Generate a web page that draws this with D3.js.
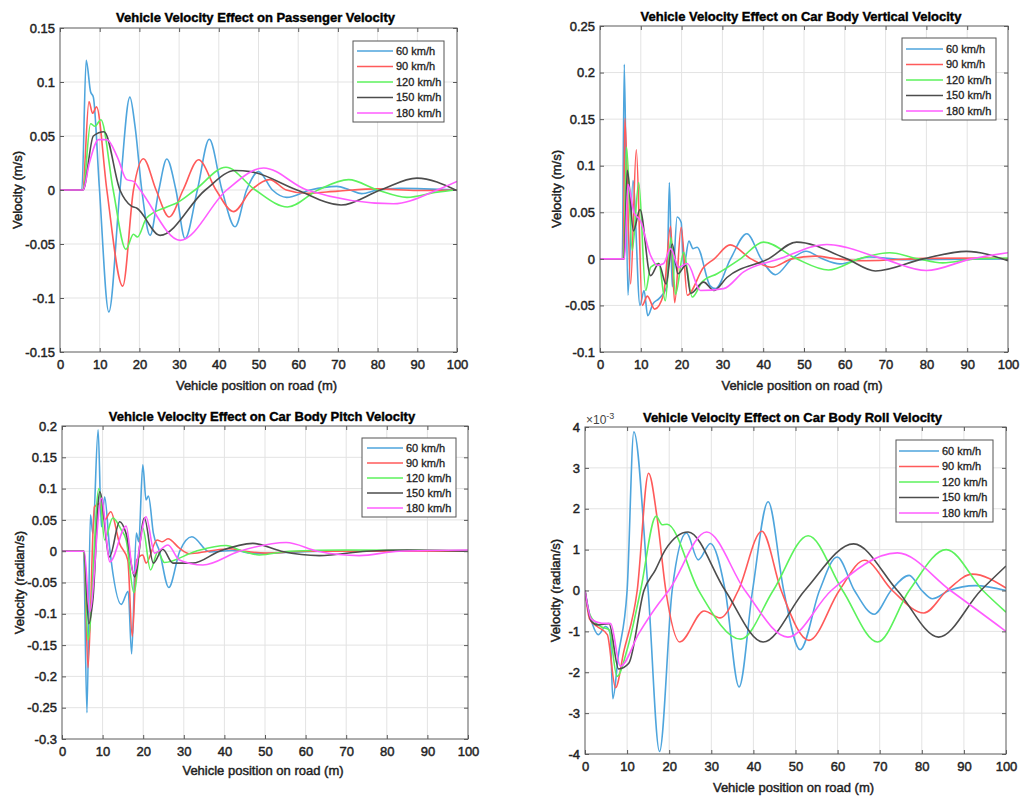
<!DOCTYPE html>
<html><head><meta charset="utf-8">
<script src="https://cdn.jsdelivr.net/npm/d3@7/dist/d3.min.js"></script>
<style>
body{margin:0;background:#fff}
text{font-family:"Liberation Sans",Arial,Helvetica,sans-serif}
</style>
</head><body>
<svg id="chart" width="1022" height="797"></svg>
<script>
// ---------- shared ----------
const xTicks = [0,10,20,30,40,50,60,70,80,90,100];
const speeds = ["60 km/h","90 km/h","120 km/h","150 km/h","180 km/h"];
const colors = ["#4ea5dd","#ff5a5a","#5cf25c","#4d4d4d","#ff5cff"];

// ---------- Panel 1: passenger velocity (m/s) ----------
const passTicks = [-0.15,-0.1,-0.05,0,0.05,0.1,0.15];
const pass60 = [[0,0],[5.5,0],[6.6,0.12],[7.7,0.091],[8.4,0.086],[9.9,0.003],[12.3,-0.113],[15.1,0],[17.6,0.086],[18.9,0.059],[20.6,0],[22.7,-0.042],[24.9,0],[26.9,0.0287],[29.2,0],[31.5,-0.045],[34.6,0],[37.6,0.047],[40.8,0],[44.1,-0.034],[47,0],[50,0.017],[53.5,0],[57.1,-0.0068],[63,0],[69.7,0.0034],[73,0],[76,-0.0034],[80,0],[85.7,0.0015],[100,0]];
const pass90 = [[0,0],[5.7,0],[7.3,0.082],[8.2,0.071],[9.2,0.077],[11.8,0],[15.8,-0.089],[18.5,0],[21,0.029],[24.2,0],[27.5,-0.025],[31,0],[34.9,0.028],[39.3,0],[43.7,-0.020],[48.2,0],[52.8,0.0096],[57,0],[62,-0.003],[70,-0.001],[80,0.001],[90,-0.0005],[100,0]];
const pass120 = [[0,0],[5.8,0],[7.7,0.0614],[8.8,0.059],[10.3,0.065],[13.4,0],[16.6,-0.055],[18.5,-0.041],[19.5,-0.0435],[21.8,-0.026],[26.9,-0.0157],[29.4,-0.012],[34,0],[41.8,0.021],[49.2,0],[57.3,-0.0157],[65,0],[72.7,0.0096],[80,0],[87.4,-0.0068],[95,-0.002],[100,0]];
const pass150 = [[0,0],[5.8,0],[8.4,0.050],[11.1,0.054],[15.1,0],[18,-0.015],[19.3,-0.0167],[25.2,-0.042],[36.6,0],[44.1,0.018],[48,0.017],[59.7,0],[70.8,-0.0139],[80.7,0],[89.9,0.011],[100,-0.0006]];
const pass180 = [[0,0],[5.8,0],[7.4,0.025],[9.7,0.0466],[11.8,0.0466],[14.5,0.03],[16.8,0.0096],[18.5,0.008],[20.2,0],[30.3,-0.0466],[42,0],[51.3,0.0204],[62.2,0],[84,-0.0127],[95,0],[100,0.008]];

// ---------- Panel 2: car body vertical velocity (m/s) ----------
const vertTicks = [-0.1,-0.05,0,0.05,0.1,0.15,0.2,0.25];
const vert60 = [[0,0],[5.46,0],[5.95,0.209],[6.85,-0.039],[8.07,0.084],[9.8,-0.050],[10.8,-0.034],[11.7,-0.061],[13,-0.048],[14.4,-0.043],[16.4,-0.03],[17,0.082],[17.7,-0.030],[18.9,0.045],[19.9,0.039],[20.5,-0.009],[21.8,0.019],[22.8,0.011],[23.8,0.0125],[27,-0.029],[28.3,-0.032],[32,0],[36,0.027],[39.5,0],[43,-0.017],[47,0],[50.5,0.0082],[54.5,0],[58.8,-0.0054],[66,0.002],[75,-0.001],[100,0]];
const vert90 = [[0,0],[5.7,0],[6.1,0.151],[7.5,-0.027],[8.9,0.117],[10.35,-0.050],[11.6,-0.04],[13.4,-0.054],[15.6,-0.038],[17.3,0.035],[18.3,-0.047],[19.9,0.034],[21.4,-0.039],[25.4,-0.009],[28,0],[31.9,0.015],[37,0],[42.1,-0.009],[47,0],[52.7,0.0029],[58,0],[65,-0.002],[80,0.0005],[95,0.001],[100,0]];
const vert120 = [[0,0],[5.8,0],[6.5,0.120],[7.9,0.009],[9.5,0.082],[11.2,-0.034],[12.4,-0.009],[14.4,-0.005],[16,-0.045],[17.4,0.023],[18.5,-0.038],[20.5,0.007],[22.6,-0.041],[25,-0.025],[28.7,-0.016],[34.4,0],[40.1,0.018],[48.2,0],[56,-0.012],[63.5,0],[71,0.0065],[78,0],[84,-0.0043],[92,0],[100,0.001]];
const vert150 = [[0,0],[5.9,0],[6.7,0.095],[8.2,0.030],[9.8,0.053],[12.4,-0.018],[14.4,-0.005],[16.2,-0.027],[17.7,0.016],[19.1,-0.016],[21,-0.007],[22.2,-0.037],[25.4,-0.025],[27.9,-0.034],[31.1,-0.020],[41.3,0],[48.2,0.018],[60.5,0],[67.5,-0.013],[79.2,0],[89.8,0.008],[100,-0.002]];
const vert180 = [[0,0],[6,0],[6.85,0.08],[8.3,0.050],[9.9,0.041],[12.4,0.0036],[14,-0.007],[15.6,-0.005],[17.3,0.011],[19.3,-0.009],[21.4,-0.005],[24.6,-0.034],[30.3,-0.032],[35.2,-0.014],[44,0],[55.6,0.0154],[69.4,0],[80,-0.0125],[91,0],[100,0.0065]];

// ---------- Panel 3: car body pitch velocity (radian/s) ----------
const pitchTicks = [-0.3,-0.25,-0.2,-0.15,-0.1,-0.05,0,0.05,0.1,0.15,0.2];
const pitch60 = [[0,0],[5.3,0],[6.15,-0.258],[7,0.058],[7.6,0.028],[8.9,0.194],[9.7,0.039],[10.5,0.087],[11.7,0.007],[14.6,-0.085],[16.3,-0.064],[17.15,-0.164],[18.3,0.029],[18.9,0.015],[19.9,0.138],[20.7,0.082],[21.3,0.088],[22.5,0.029],[24,0],[26.3,-0.058],[29,0],[32,0.023],[36.3,-0.001],[42,0.001],[48,-0.004],[55,-0.002],[65,0],[100,0]];
const pitch90 = [[0,0],[5.4,0],[6.4,-0.186],[8,0.071],[9.3,0.076],[10.5,0.050],[12,0.063],[14.2,0.012],[16.2,-0.014],[17.3,-0.136],[18.4,-0.014],[19.9,-0.006],[20.7,-0.019],[23.4,0.018],[24.7,0.015],[26.1,0.02],[28.9,0.005],[31.4,-0.004],[36,0],[41.2,0.004],[45,0],[50.2,-0.003],[60,0],[100,0]];
const pitch120 = [[0,0],[5.4,0],[6.4,-0.142],[9.1,0.10],[10.5,0.018],[12.5,0.053],[14.6,0.034],[15.8,0.018],[17.7,-0.066],[19.9,0.037],[21.8,-0.030],[23.6,-0.001],[25.2,-0.018],[33,0],[40.4,0.009],[44.5,0],[48.6,-0.006],[56,0],[70,0.002],[100,0.001]];
const pitch150 = [[0,0],[5.4,0],[6.6,-0.116],[7.6,-0.078],[9.3,0.095],[11.7,-0.009],[14.2,0.047],[15.8,0.028],[17.9,-0.041],[20.3,0.053],[22.5,-0.019],[24.8,0.003],[27.3,-0.019],[32.2,-0.019],[38.8,0],[47,0.0125],[54,0],[63.4,-0.007],[75,0],[85,0.002],[100,0]];
const pitch180 = [[0,0],[5.5,0],[6.8,-0.097],[9.7,0.085],[11.8,-0.017],[15.8,0.040],[17.6,-0.036],[20.7,0.055],[22.8,-0.003],[26.1,0.01],[28.9,-0.014],[34.7,-0.022],[43.7,0],[55.2,0.014],[63,0],[73.2,-0.007],[83,0],[100,0.002]];

// ---------- Panel 4: car body roll velocity (x1e-3 radian/s) ----------
const rollTicks = [-4,-3,-2,-1,0,1,2,3,4];
const roll60 = [[0,0],[1,-0.55],[1.7,-0.8],[3.15,-1.08],[4.9,-0.88],[6,-1.05],[6.6,-2.65],[7.9,-1.6],[10,0],[11.6,3.88],[15,0],[17.7,-3.94],[20.7,0],[24.1,1.41],[26.9,0.75],[29.8,1.15],[33.3,0],[36.6,-2.36],[39.8,0],[43.5,2.17],[47.2,0],[51.1,-1.45],[55.7,0],[59.9,0.82],[64,0],[68.7,-0.58],[72.7,0],[77,0.37],[80,0],[82.5,-0.2],[86.5,0],[92.7,0.12],[100,0]];
const roll90 = [[0,0],[1.1,-0.7],[2.9,-0.88],[5.3,-1.08],[7.25,-2.38],[9.2,-1.5],[12.4,0],[15.1,2.87],[17.1,1.8],[19.2,0],[22.5,-1.26],[28.3,-0.5],[32.1,-0.67],[36.4,0],[42,1.45],[46.6,0],[53.2,-1.22],[60.4,0],[66.4,0.74],[73,0],[80.5,-0.55],[86,0],[92,0.4],[100,0.06]];
const roll120 = [[0,0],[1.2,-0.6],[3.7,-0.88],[5.7,-0.96],[7.6,-2.1],[10,-1.45],[13.2,0],[16.9,1.82],[18.3,1.61],[19.5,1.62],[27,0],[37,-1.19],[44.7,0],[53,1.34],[61.2,0],[69.5,-1.26],[77,0],[85.8,1.0],[94.5,0],[100,-0.53]];
const roll150 = [[0,0],[1.5,-0.75],[3,-0.84],[5.7,-0.81],[8,-1.92],[10.4,-1.78],[14,0],[16.7,0.5],[19.1,1.0],[24.5,1.43],[33.3,0],[42.3,-1.26],[52.2,0],[63.8,1.14],[74.2,0],[84,-1.14],[94,0],[100,0.6]];
const roll180 = [[0,0],[1.5,-0.7],[4,-0.8],[6.1,-0.81],[8.4,-1.85],[12.8,-1.05],[17.5,-0.32],[19.9,0],[28.9,1.43],[38,0],[48.2,-1.14],[58.5,0],[74.2,0.92],[86.8,0],[100,-1.0]];

// ---------- layout ----------
const panels = [
  {title:"Vehicle Velocity Effect on Passenger Velocity", ylabel:"Velocity (m/s)",
   yTicks:passTicks, series:[pass60,pass90,pass120,pass150,pass180],
   l:60,t:28,r:457,b:352, titleY:22, xlabY:390, ylabX:22,
   leg:{x0:353,y0:41,x1:444,y1:122,l0:357,l1:393,tx:396,rows:[51,66.5,82,97.5,113]}},
  {title:"Vehicle Velocity Effect on Car Body Vertical Velocity", ylabel:"Velocity (m/s)",
   yTicks:vertTicks, series:[vert60,vert90,vert120,vert150,vert180],
   l:600,t:26,r:1008,b:352, titleY:21, xlabY:390, ylabX:561,
   leg:{x0:902,y0:38,x1:996,y1:120,l0:906,l1:943,tx:946,rows:[49,64.5,80,95.5,111]}},
  {title:"Vehicle Velocity Effect on Car Body Pitch Velocity", ylabel:"Velocity (radian/s)",
   yTicks:pitchTicks, series:[pitch60,pitch90,pitch120,pitch150,pitch180],
   l:62,t:426,r:468,b:739, titleY:421, xlabY:775, ylabX:24,
   leg:{x0:362,y0:438,x1:456,y1:517,l0:367,l1:403,tx:406,rows:[448,463,478,493,508]}},
  {title:"Vehicle Velocity Effect on Car Body Roll Velocity", ylabel:"Velocity (radian/s)",
   yTicks:rollTicks, series:[roll60,roll90,roll120,roll150,roll180], expo:true,
   l:585,t:427,r:1006,b:754, titleY:422, xlabY:792, ylabX:560,
   leg:{x0:896,y0:440,x1:993,y1:522,l0:899,l1:939,tx:942,rows:[451,466.5,482,497.5,513]}}
];

const svg = d3.select("#chart");
svg.append("rect").attr("width",1022).attr("height",797).attr("fill","#fff");

// slight stroke on text to mimic the heavier rendering of the reference
function heavy(sel, col, w){ return sel.attr("stroke",col).attr("stroke-width",w).attr("paint-order","stroke"); }

panels.forEach((p,i)=>{
  const g = svg.append("g");
  const x = d3.scaleLinear().domain([0,100]).range([p.l,p.r]);
  const yd = d3.extent(p.yTicks);
  const y = d3.scaleLinear().domain(yd).range([p.b,p.t]);

  // grid
  g.append("g").selectAll("line").data(xTicks.slice(1,-1)).join("line")
    .attr("x1",d=>x(d)).attr("x2",d=>x(d)).attr("y1",p.t).attr("y2",p.b)
    .attr("stroke","#e3e3e3").attr("stroke-width",1);
  g.append("g").selectAll("line").data(p.yTicks.slice(1,-1)).join("line")
    .attr("y1",d=>y(d)).attr("y2",d=>y(d)).attr("x1",p.l).attr("x2",p.r)
    .attr("stroke","#e3e3e3").attr("stroke-width",1);

  // clip
  const cid = "clip"+i;
  svg.append("clipPath").attr("id",cid).append("rect")
    .attr("x",p.l).attr("y",p.t).attr("width",p.r-p.l).attr("height",p.b-p.t);

  const line = d3.line().x(d=>x(d[0])).y(d=>y(d[1])).curve(d3.curveMonotoneX);
  g.append("g").attr("clip-path",`url(#${cid})`).selectAll("path").data(p.series).join("path")
    .attr("d",line).attr("fill","none").attr("stroke",(d,k)=>colors[k])
    .attr("stroke-width",1.6).attr("stroke-linejoin","round");

  // axes
  const fmt = d=>String(d);
  const ax = g.append("g").attr("transform",`translate(0,${p.b})`)
    .call(d3.axisBottom(x).tickValues(xTicks).tickFormat(fmt).tickSizeInner(-4).tickSizeOuter(0).tickPadding(8));
  const ay = g.append("g").attr("transform",`translate(${p.l},0)`)
    .call(d3.axisLeft(y).tickValues(p.yTicks).tickFormat(fmt).tickSizeInner(-4).tickSizeOuter(0).tickPadding(5));
  const at = g.append("g").attr("transform",`translate(0,${p.t})`)
    .call(d3.axisTop(x).tickValues(xTicks).tickFormat("").tickSizeInner(-4).tickSizeOuter(0));
  const ar = g.append("g").attr("transform",`translate(${p.r},0)`)
    .call(d3.axisRight(y).tickValues(p.yTicks).tickFormat("").tickSizeInner(-4).tickSizeOuter(0));
  [ax,ay,at,ar].forEach(a=>{
    a.select(".domain").remove();
    a.selectAll(".tick line").attr("stroke","#5a5a5a");
    heavy(a.selectAll(".tick text").attr("fill","#222").style("font-size","13px")
     .style("font-family",'"Liberation Sans",Arial,sans-serif'),"#222",0.45);
  });
  g.append("rect").attr("x",p.l).attr("y",p.t).attr("width",p.r-p.l).attr("height",p.b-p.t)
    .attr("fill","none").attr("stroke","#5a5a5a").attr("stroke-width",1);

  // title & labels
  const cx = (p.l+p.r)/2;
  heavy(g.append("text").attr("x",cx-3).attr("y",p.titleY).attr("text-anchor","middle")
    .style("font-size","13px").style("font-weight","bold").attr("fill","#000").text(p.title),"#000",0.4);
  heavy(g.append("text").attr("x",cx-2).attr("y",p.xlabY).attr("text-anchor","middle")
    .style("font-size","13px").attr("fill","#222").text("Vehicle position on road (m)"),"#222",0.45);
  heavy(g.append("text").attr("transform",`translate(${p.ylabX},${(p.t+p.b)/2}) rotate(-90)`)
    .attr("text-anchor","middle").style("font-size","13px").attr("fill","#222").text(p.ylabel),"#222",0.45);
  if(p.expo){
    const e = g.append("text").attr("x",p.l+1).attr("y",p.t-3).style("font-size","12px").attr("fill","#444");
    e.append("tspan").text("×10");
    e.append("tspan").attr("dy",-5).style("font-size","9px").text("-3");
  }

  // legend
  const L = p.leg;
  g.append("rect").attr("x",L.x0).attr("y",L.y0).attr("width",L.x1-L.x0).attr("height",L.y1-L.y0)
    .attr("fill","#fff").attr("stroke","#555").attr("stroke-width",1);
  speeds.forEach((s,k)=>{
    g.append("line").attr("x1",L.l0).attr("x2",L.l1).attr("y1",L.rows[k]).attr("y2",L.rows[k])
      .attr("stroke",colors[k]).attr("stroke-width",1.6);
    heavy(g.append("text").attr("x",L.tx).attr("y",L.rows[k]).attr("dy","0.35em")
      .style("font-size","11px").attr("fill","#222").text(s),"#222",0.3);
  });
});
</script>
</body></html>
